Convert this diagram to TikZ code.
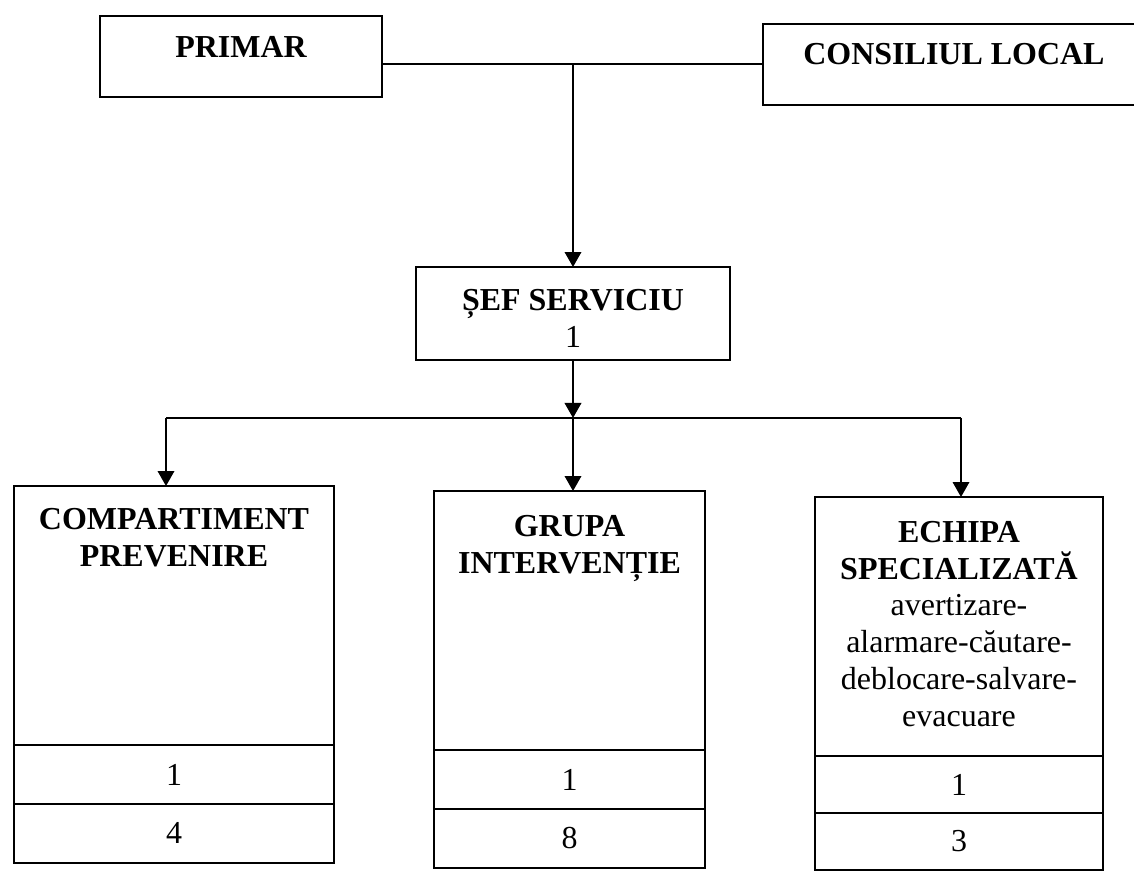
\documentclass[tikz,border=0pt]{standalone}
\usepackage{fontspec}
\setmainfont{Liberation Serif}
\usetikzlibrary{arrows.meta,positioning}

\begin{document}
\begin{tikzpicture}[x=0.02cm,y=-0.02cm,>={Triangle[length=3mm,width=3.3mm]},line width=1.1pt,node distance=0pt,
    box/.style={draw,rectangle,outer sep=0pt,inner sep=0pt},
    cell/.style={box,minimum height=1.18cm,font=\fontsize{18.2}{21}\selectfont},
    head/.style={inner sep=0pt,align=center,font=\fontsize{18.2}{21}\selectfont\bfseries}]

            \useasboundingbox (0,0) rectangle (1134,871);

            % top level
            \node[box,minimum width=5.64cm,minimum height=1.62cm] (primar) at (241,56.5) {};
            \node[head,below=0.38cm of primar.north] (primarT) {PRIMAR};
            \node[box,minimum width=7.64cm,minimum height=1.62cm] (consiliu) at (954,64.5) {};
            \node[head,below=0.36cm of consiliu.north] (consiliuT) {CONSILIUL LOCAL};

            \node[box,minimum width=6.28cm,minimum height=1.86cm] (sef) at (573,313.5) {};
            \node[head,below=0.42cm of sef.north] (sefT) {ȘEF SERVICIU\\\mdseries 1};

            % compartments
            \node[box,minimum width=6.4cm,minimum height=5.18cm] (prev) at (174,615.5) {};
            \node[head,below=0.42cm of prev.north] (prevT) {COMPARTIMENT\\PREVENIRE};
            \node[cell,minimum width=6.4cm] (prev1) [below=of prev] {1};
            \node[cell,minimum width=6.4cm] (prev2) [below=of prev1] {4};

            \node[box,minimum width=5.42cm,minimum height=5.18cm] (grupa) at (569.5,620.5) {};
            \node[head,below=0.46cm of grupa.north] (grupaT) {GRUPA\\INTERVENȚIE};
            \node[cell,minimum width=5.42cm] (grupa1) [below=of grupa] {1};
            \node[cell,minimum width=5.42cm] (grupa2) [below=of grupa1] {8};

            \node[box,minimum width=5.76cm,minimum height=5.18cm] (echipa) at (959,626.5) {};
            \node[head,below=0.46cm of echipa.north] (echipaT) {ECHIPA\\SPECIALIZATĂ\\\mdseries avertizare-\\\mdseries alarmare-căutare-\\\mdseries deblocare-salvare-\\\mdseries evacuare};
            \node[cell,minimum width=5.76cm,minimum height=1.14cm] (echipa1) [below=of echipa] {1};
            \node[cell,minimum width=5.76cm,minimum height=1.14cm] (echipa2) [below=of echipa1] {3};

            % connectors
            \coordinate (top) at (573,64);
            \coordinate (bus) at (573,418);
            \coordinate (busL) at (166,418);
            \coordinate (busR) at (961,418);

            \draw (primar.east |- top) -- (consiliu.west |- top);
            \draw (busL) -- (busR);

            \path[->] (top) edge (top |- sef.north)
                      (sef) edge (bus)
                      (busL) edge (busL |- prev.north)
                      (bus) edge (bus |- grupa.north)
                      (busR) edge (busR |- echipa.north);

        \end{tikzpicture}
\end{document}
